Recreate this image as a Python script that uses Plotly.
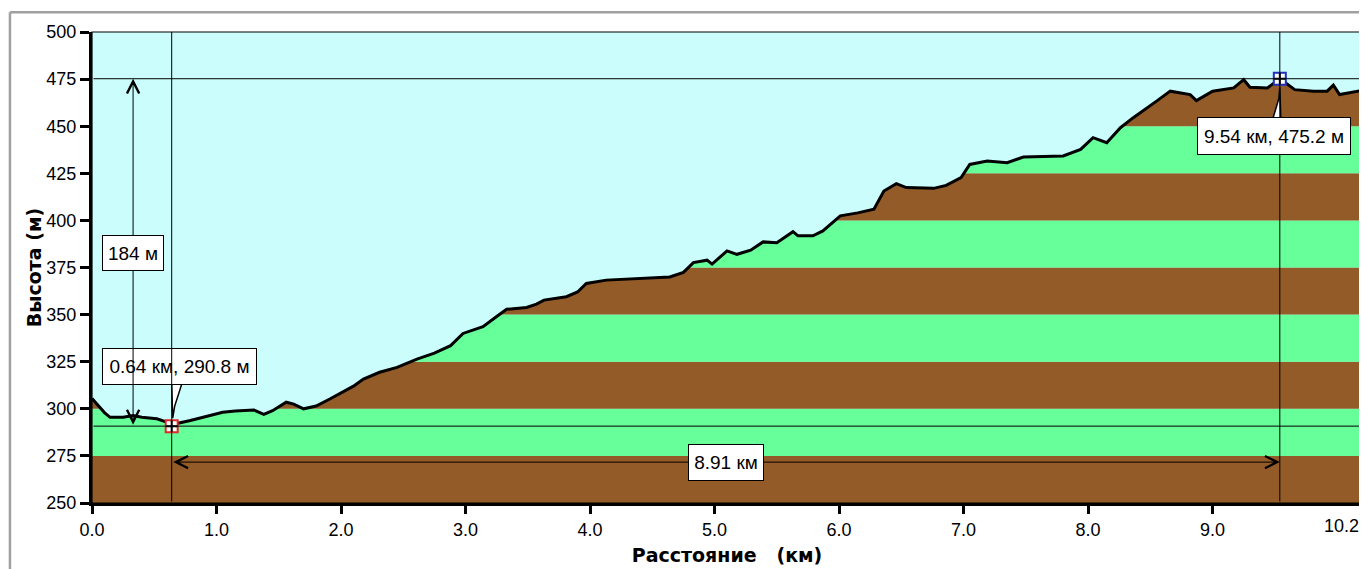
import plotly.graph_objects as go

# ---------------- data ----------------
dist_km = [0.00, 0.05, 0.10, 0.145, 0.25, 0.33, 0.40, 0.52, 0.60, 0.64, 0.70, 0.79,
           0.90, 1.05, 1.15, 1.30, 1.38, 1.45, 1.56, 1.62, 1.70, 1.80, 1.91, 2.00,
           2.10, 2.18, 2.31, 2.45, 2.61, 2.75, 2.88, 2.98, 3.05, 3.14, 3.25, 3.33,
           3.49, 3.57, 3.63, 3.81, 3.90, 3.97, 4.13, 4.40, 4.64, 4.75, 4.83, 4.94,
           4.98, 5.10, 5.18, 5.29, 5.39, 5.50, 5.63, 5.67, 5.79, 5.87, 6.01, 6.15,
           6.28, 6.36, 6.46, 6.54, 6.76, 6.86, 6.98, 7.05, 7.19, 7.35, 7.48, 7.80,
           7.94, 8.04, 8.15, 8.26, 8.36, 8.55, 8.66, 8.82, 8.87, 9.00, 9.17, 9.25,
           9.30, 9.44, 9.54, 9.66, 9.81, 9.92, 9.97, 10.02, 10.16, 10.20]
elev_m = [305.5, 302.0, 298.0, 295.5, 295.5, 296.4, 295.5, 294.7, 293.0, 290.8, 292.5, 293.8,
          295.5, 298.2, 298.8, 299.4, 297.0, 299.0, 303.5, 302.5, 300.0, 301.5, 305.2, 308.5,
          312.0, 315.8, 319.4, 322.0, 326.4, 329.5, 333.5, 340.0, 341.5, 343.6, 349.0, 352.8,
          353.8, 355.6, 357.7, 359.5, 362.0, 366.5, 368.3, 369.3, 370.0, 372.4, 377.6, 378.9,
          376.8, 383.8, 382.0, 384.2, 388.6, 388.2, 394.0, 391.8, 391.8, 394.4, 402.4, 404.0,
          405.9, 415.6, 419.5, 417.4, 417.0, 418.6, 422.7, 429.7, 431.5, 430.6, 433.6, 434.2,
          437.7, 443.9, 441.2, 449.2, 454.4, 463.3, 468.6, 466.8, 463.6, 468.6, 470.3, 474.7,
          470.7, 470.3, 475.2, 469.4, 468.6, 468.6, 471.8, 466.8, 468.6, 469.0]

band_edges = [250, 275, 300, 325, 350, 375, 400, 425, 450, 475, 500]
band_colors = ["#935b27", "#66ff99"]

x_range = [0, 10.2]
y_range = [250, 500]
x_ticks = [0, 1, 2, 3, 4, 5, 6, 7, 8, 9, 10.2]
x_tick_text = ["0.0", "1.0", "2.0", "3.0", "4.0", "5.0", "6.0", "7.0", "8.0", "9.0", ""]
y_ticks = [250, 275, 300, 325, 350, 375, 400, 425, 450, 475, 500]

min_pt = (0.64, 290.8)
max_pt = (9.54, 475.2)
min_label = "0.64 км, 290.8 м"
max_label = "9.54 км, 475.2 м"
height_arrow_x = 0.33
height_label = "184 м"
dist_arrow_y = 271.7
dist_label = "8.91 км"

x_title = "Расстояние\u00a0\u00a0\u00a0(км)"
y_title = "Высота (м)"

SKY = "#ccfdfd"
TICK_FONT = dict(family="Liberation Sans, Arial, sans-serif", size=18, color="black")
LABEL_FONT = dict(family="Liberation Sans, Arial, sans-serif", size=19, color="black")
TITLE_FONT = dict(family="DejaVu Sans, Verdana, sans-serif", size=19, color="black", weight="bold")

fig = go.Figure()

# sky above the profile
fig.add_trace(go.Scatter(
    x=dist_km + [x_range[1], x_range[0]],
    y=elev_m + [y_range[1], y_range[1]],
    mode="lines", fill="toself", fillcolor=SKY,
    line=dict(width=0), hoverinfo="skip", showlegend=False))

# profile line
fig.add_trace(go.Scatter(
    x=dist_km, y=elev_m, mode="lines",
    line=dict(color="black", width=3), showlegend=False))

# markers
for (px, py), col in [(min_pt, "#e02828"), (max_pt, "#2030c0")]:
    fig.add_trace(go.Scatter(
        x=[px], y=[py], mode="markers", cliponaxis=False, showlegend=False,
        marker=dict(symbol="square", size=12, color="white",
                    line=dict(color=col, width=2))))
    fig.add_trace(go.Scatter(
        x=[px], y=[py], mode="markers", cliponaxis=False, showlegend=False,
        marker=dict(symbol="cross-thin", size=8, line=dict(color="black", width=2))))

shapes = []
for i in range(len(band_edges) - 1):
    shapes.append(dict(type="rect", xref="paper", yref="y", x0=0, x1=1,
                       y0=band_edges[i], y1=band_edges[i + 1],
                       fillcolor=band_colors[i % 2], line=dict(width=0), layer="below"))
# plot frame (thin)
shapes.append(dict(type="rect", xref="paper", yref="paper", x0=0, x1=1, y0=0, y1=1,
                   line=dict(color="black", width=1.2), layer="above"))
# window frame
shapes.append(dict(type="line", xref="paper", yref="paper", x0=-0.0646, x1=1.01,
                   y0=1.042, y1=1.042, line=dict(color="#a0a0a0", width=2.5)))
shapes.append(dict(type="line", xref="paper", yref="paper", x0=-0.0646, x1=-0.0646,
                   y0=1.042, y1=-0.14, line=dict(color="#a0a0a0", width=2.5)))
# callout wedges
shapes.append(dict(type="path", xref="x", yref="y", xsizemode="pixel", ysizemode="pixel",
                   xanchor=min_pt[0], yanchor=min_pt[1],
                   path="M 1,8 L 0,42 L 10,42 L 3,20 Z",
                   fillcolor="white", line=dict(color="black", width=1.5), layer="above"))
shapes.append(dict(type="path", xref="x", yref="y", xsizemode="pixel", ysizemode="pixel",
                   xanchor=max_pt[0], yanchor=max_pt[1],
                   path="M 0,-8 L 1,-40 L -7,-40 L -1,-20 Z",
                   fillcolor="white", line=dict(color="black", width=1.5), layer="above"))


def seg(x0, y0, x1, y1, head=0, both=False, size=2.4):
    d = dict(x=x1, y=y1, ax=x0, ay=y0, xref="x", yref="y", axref="x", ayref="y",
             text="", showarrow=True, arrowcolor="black", arrowwidth=1,
             arrowhead=head, arrowsize=size, standoff=0, startstandoff=0)
    if both:
        d.update(arrowside="end+start", startarrowhead=head, startarrowsize=size)
    return d


def label(x, y, text, w, h, xs=0, ys=0):
    return dict(x=x, y=y, xref="x", yref="y", text=text, showarrow=False,
                xshift=xs, yshift=ys, font=LABEL_FONT, bgcolor="white",
                bordercolor="black", borderwidth=1, borderpad=0,
                width=w, height=h, align="center", valign="middle",
                xanchor="center", yanchor="middle")


annotations = [
    label(min_pt[0], min_pt[1], min_label, 153, 35, xs=7.5, ys=59.5),
    seg(x_range[0], min_pt[1], x_range[1], min_pt[1]),
    seg(x_range[0], max_pt[1], x_range[1], max_pt[1]),
    seg(min_pt[0], y_range[0], min_pt[0], y_range[1]),
    seg(max_pt[0], y_range[0], max_pt[0], y_range[1]),
    seg(height_arrow_x, min_pt[1], height_arrow_x, max_pt[1], head=5, both=True),
    label(height_arrow_x, (min_pt[1] + max_pt[1]) / 2, height_label, 60, 34, ys=-1),
    seg(min_pt[0], dist_arrow_y, max_pt[0], dist_arrow_y, head=5, both=True),
    label((min_pt[0] + max_pt[0]) / 2, dist_arrow_y, dist_label, 74, 35),
    label(max_pt[0], max_pt[1], max_label, 152, 36, xs=-6, ys=-57),
    dict(x=x_range[1], y=0, xref="x", yref="paper", text="10.2", showarrow=False,
         xanchor="right", yanchor="top", yshift=-11, xshift=-1, font=TICK_FONT),
]

fig.update_layout(
    width=1359, height=561,
    margin=dict(l=84, r=5, t=24, b=63),
    paper_bgcolor="white", plot_bgcolor=SKY,
    showlegend=False,
    shapes=shapes, annotations=annotations,
    xaxis=dict(range=x_range, tickvals=x_ticks, ticktext=x_tick_text,
               showgrid=False, zeroline=False, showline=True, linecolor="black",
               linewidth=3, ticks="outside", ticklen=8, tickwidth=2.5, tickcolor="black",
               tickfont=TICK_FONT,
               title=dict(text=x_title, font=TITLE_FONT, standoff=11)),
    yaxis=dict(range=y_range, tickvals=y_ticks,
               showgrid=False, zeroline=False, showline=True, linecolor="black",
               linewidth=3, ticks="outside", ticklen=9, tickwidth=2.5, tickcolor="black",
               tickfont=TICK_FONT,
               title=dict(text=y_title, font=TITLE_FONT, standoff=0)),
)

fig.write_html("out.html")
